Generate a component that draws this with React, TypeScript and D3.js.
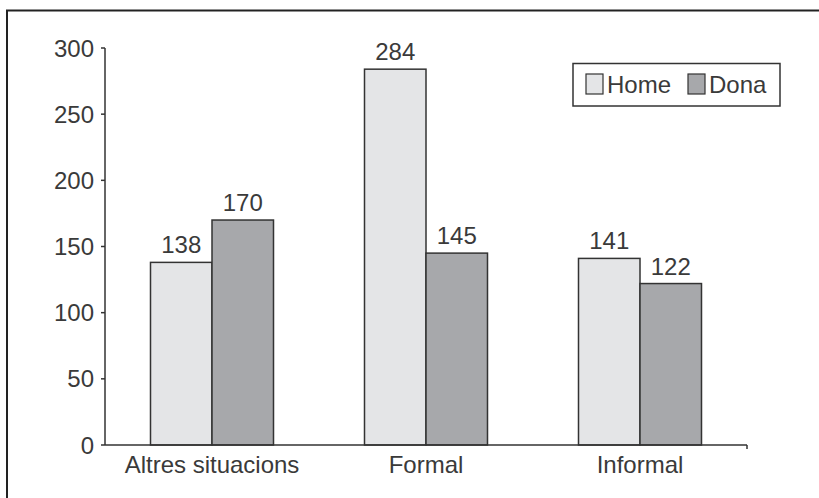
import React from "react";
import * as d3 from "d3";

const categories = ["Altres situacions", "Formal", "Informal"];
const seriesNames = ["Home", "Dona"];
const homeValues = [138, 284, 141];
const donaValues = [170, 145, 122];
const yTicks = [0, 50, 100, 150, 200, 250, 300];

const W = 819;
const H = 498;
const colors = ["#e4e5e7", "#a7a8ab"];
const stroke = "#333333";
const textColor = "#3a3a3a";
const font = "'Liberation Sans', Arial, Helvetica, sans-serif";
const fs = 24;

export default function App() {
  const x0 = 105, x1 = 747, yTop = 48, yBot = 445;
  const x = d3.scaleBand<string>().domain(categories).range([x0, x1]);
  const y = d3.scaleLinear().domain([0, 300]).range([yBot, yTop]);
  const barW = 61.5;
  const series = [homeValues, donaValues];
  return (
    <svg width={W} height={H} style={{ position: "absolute", left: 0, top: 0 }}>
      <rect x={0} y={0} width={W} height={H} fill="#fff" />
      <path d={`M7,${H + 5} V10.5 H${W + 5}`} fill="none" stroke="#222" strokeWidth={2} />
      {categories.map((c, i) => {
        const cx = (x(c) as number) + x.bandwidth() / 2;
        return (
          <g key={c}>
            {series.map((vals, s) => {
              const bx = cx - barW + s * barW;
              return (
                <g key={s}>
                  <rect x={bx} y={y(vals[i])} width={barW} height={yBot - y(vals[i])} fill={colors[s]} stroke={stroke} strokeWidth={1.5} />
                  <text x={bx + barW / 2} y={y(vals[i]) - 9} textAnchor="middle" fontFamily={font} fontSize={fs} fill={textColor}>{vals[i]}</text>
                </g>
              );
            })}
            <text x={cx} y={473} textAnchor="middle" fontFamily={font} fontSize={fs} fill={textColor}>{c}</text>
          </g>
        );
      })}
      <line x1={x0} x2={x0} y1={yTop} y2={yBot} stroke={stroke} strokeWidth={1.5} />
      {yTicks.map((t) => (
        <g key={t}>
          <line x1={x0 - 4} x2={x0} y1={y(t)} y2={y(t)} stroke={stroke} strokeWidth={1.5} />
          <text x={94} y={y(t)} dy="0.36em" textAnchor="end" fontFamily={font} fontSize={fs} fill={textColor}>{t}</text>
        </g>
      ))}
      <line x1={x0} x2={x1} y1={yBot} y2={yBot} stroke={stroke} strokeWidth={1.5} />
      <line x1={x1} x2={x1} y1={yBot} y2={yBot + 4} stroke={stroke} strokeWidth={1.5} />
      <rect x={573} y={63.5} width={207} height={42.5} fill="#fff" stroke={stroke} strokeWidth={1.5} />
      {seriesNames.map((n, i) => {
        const sx = i === 0 ? 586 : 688;
        return (
          <g key={n}>
            <rect x={sx} y={74} width={17} height={20} fill={colors[i]} stroke={stroke} strokeWidth={1.2} />
            <text x={sx + 21} y={93} fontFamily={font} fontSize={fs} fill={textColor}>{n}</text>
          </g>
        );
      })}
    </svg>
  );
}
